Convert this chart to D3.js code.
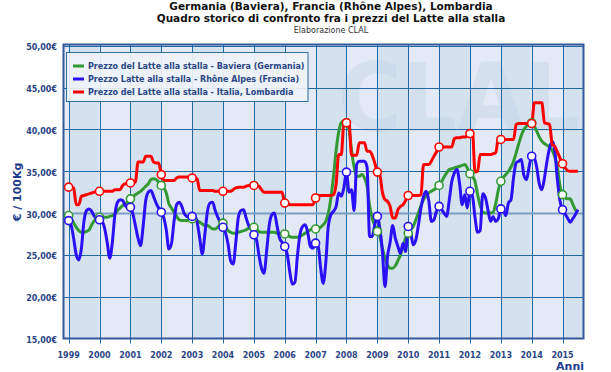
<!DOCTYPE html>
<html>
<head>
<meta charset="utf-8">
<script src="https://cdn.jsdelivr.net/npm/d3@7"></script>
<style>
  body { margin: 0; background: #fff; }
  svg { display: block; font-family: "DejaVu Sans", sans-serif; }
</style>
</head>
<body>
<svg id="chart" width="611" height="372"></svg>
<script>
// monthly prices, Jan 1999 - Jul 2015 (€ / 100 kg)
const baviera = [
  29.7, 29.3, 28.8, 28.3, 27.9, 27.7, 27.7, 27.8, 28.0, 28.6, 29.1, 29.4,
  29.5, 29.5, 29.5, 29.5, 29.6, 29.7, 29.9, 30.3, 30.6, 30.9, 31.1, 31.4,
  31.7, 32.0, 32.2, 32.4, 32.6, 32.9, 33.2, 33.5, 34.0, 34.1, 34.0, 33.7,
  33.3, 33.0, 32.4, 31.1, 30.6, 30.1, 29.6, 29.2, 29.1, 29.1, 29.1, 29.2,
  29.3, 29.3, 29.1, 28.9, 28.7, 28.5, 28.5, 28.3, 28.1, 28.1, 28.3, 28.6,
  28.8, 28.3, 27.9, 27.7, 27.6, 27.6, 27.7, 27.8, 27.9, 28.0, 28.2, 28.3,
  28.3, 28.1, 27.8, 27.7, 27.7, 27.7, 27.7, 27.7, 27.7, 27.6, 27.6, 27.5,
  27.5, 27.3, 27.2, 27.1, 27.1, 27.1, 27.2, 27.4, 27.6, 27.8, 28.0, 28.1,
  28.1, 28.2, 28.3, 28.6, 29.0, 30.0, 31.8, 34.4, 37.5, 39.7, 40.8, 41.0,
  40.8, 40.0, 37.5, 35.5, 34.4, 34.4, 34.6, 34.2, 33.2, 30.9, 29.4, 28.5,
  27.8, 27.2, 25.8, 24.6, 23.8, 23.4, 23.4, 23.7, 24.3, 25.0, 26.0, 27.0,
  27.6, 28.0, 28.4, 29.2, 30.0, 30.9, 31.6, 32.0, 32.4, 32.6, 32.8, 33.0,
  33.3, 33.8, 34.3, 34.8, 35.2, 35.3, 35.4, 35.5, 35.6, 35.7, 35.8, 35.4,
  34.7, 34.4, 33.8, 32.2, 30.9, 30.1, 30.0, 30.0, 30.0, 30.1, 31.1, 32.7,
  33.8, 34.3, 34.6, 35.0, 35.5, 36.2, 37.2, 38.3, 39.3, 40.0, 40.4, 40.8,
  40.8, 40.4, 39.8, 39.1, 38.6, 38.3, 38.1, 37.9, 37.5, 36.7, 35.5, 33.3,
  32.2, 31.8, 31.7, 31.7, 31.1, 30.4, 30.1
];
const rhoneAlpes = [
  29.1, 28.5, 27.0, 25.0, 24.4, 25.8, 29.0, 30.3, 30.5, 30.2, 29.6, 29.4,
  29.2, 29.0, 28.2, 26.5, 24.6, 26.5, 29.8, 31.3, 31.6, 31.5, 30.9, 30.7,
  30.7, 29.8, 28.5, 27.0, 26.1, 28.5, 31.5, 32.5, 32.7, 32.0, 31.2, 30.6,
  30.1, 29.4, 28.0, 25.7, 26.3, 29.0, 31.0, 31.3, 30.8, 29.9, 29.6, 29.5,
  29.6, 29.7, 28.9, 27.0, 25.1, 27.5, 30.2, 31.2, 31.3, 30.3, 29.5, 28.9,
  28.3, 27.6, 26.3, 24.3, 23.9, 26.5, 29.5, 30.3, 30.4, 29.4, 28.5, 28.0,
  27.4, 26.8, 25.0, 23.4, 22.8, 25.5, 28.5, 29.8, 30.0, 28.5, 27.0, 26.5,
  26.0, 25.0, 23.0, 21.5, 21.7, 25.0, 27.5, 28.4, 28.6, 27.6, 26.0, 25.8,
  26.4, 26.0, 23.5, 21.6, 24.0, 28.5, 29.8, 30.2, 30.8, 32.4, 32.0, 33.0,
  34.9, 32.5, 32.8, 30.3, 35.8, 36.2, 36.2, 36.2, 35.5, 27.2, 27.2, 28.6,
  29.6, 28.0, 25.5, 21.2, 24.8, 26.5, 28.5, 27.0, 26.0, 25.2, 26.4, 25.4,
  28.4, 27.6, 26.2, 26.8, 28.5, 30.6, 32.0, 32.6, 31.5, 29.0, 29.2, 30.2,
  30.8, 30.4, 30.0, 29.6, 31.5, 33.8, 34.8, 35.2, 33.5, 31.0, 32.2, 30.6,
  32.6, 32.0, 29.5, 27.7, 27.9, 32.3, 31.9, 30.4, 29.0, 29.6, 29.0, 29.3,
  30.5, 30.3, 29.7, 31.2, 31.6, 34.3, 36.0, 36.2, 36.4, 34.5, 34.0, 35.5,
  36.8, 36.6, 35.5, 33.5, 32.8, 34.2, 36.2, 37.8, 38.6, 37.5, 34.0, 31.5,
  30.4, 29.9, 29.4, 28.9, 29.3, 29.8, 30.4
];
const lombardia = [
  33.1, 33.1, 33.0, 31.0, 31.0, 32.0, 32.1, 32.2, 32.3, 32.4, 32.5, 32.6,
  32.6, 32.6, 32.6, 32.6, 32.6, 32.6, 32.8, 32.8, 32.8, 33.3, 33.5, 33.5,
  33.6, 33.6, 33.7, 36.1, 36.1, 36.1, 36.8, 36.8, 36.8, 36.1, 36.0, 36.0,
  34.6, 33.9, 33.9, 33.9, 33.9, 33.9, 34.2, 34.3, 34.3, 34.3, 34.3, 34.3,
  34.2, 34.2, 34.1, 32.7, 32.7, 32.7, 32.7, 32.7, 32.7, 32.6, 32.6, 32.6,
  32.6, 32.6, 32.6, 32.6, 32.8, 33.0, 33.1, 33.1, 33.1, 33.2, 33.3, 33.3,
  33.3, 33.3, 33.2, 32.8, 32.5, 32.5, 32.5, 32.5, 32.5, 32.5, 32.5, 32.5,
  31.2, 31.2, 31.0, 31.0, 31.0, 31.0, 31.0, 31.0, 31.0, 31.0, 31.0, 31.0,
  31.8, 32.1, 32.1, 32.1, 32.1, 32.1, 32.1, 32.2, 33.5, 37.0, 37.0, 40.6,
  40.8, 40.8, 36.9, 36.9, 36.9, 38.4, 38.4, 38.4, 37.4, 37.4, 36.9, 36.0,
  34.9, 34.5, 32.5, 31.6, 31.4, 30.8, 29.4, 29.4, 30.4, 30.8, 31.0, 31.5,
  32.1, 32.1, 32.1, 32.1, 32.1, 32.2, 35.8, 35.8, 35.8, 36.2, 36.8, 37.3,
  37.9, 37.9, 37.9, 37.9, 37.9, 37.9, 38.9, 39.0, 39.0, 39.1, 39.1, 39.2,
  39.5, 39.6, 34.9, 35.0, 37.0, 37.0, 37.0, 37.0, 37.0, 37.1, 37.2, 38.8,
  38.8, 38.8, 38.8, 38.8, 38.8, 38.8, 40.6, 40.7, 40.7, 40.7, 40.7, 40.7,
  40.7, 43.2, 43.2, 43.2, 43.2, 40.8, 40.7, 40.6, 38.2, 38.0, 37.3, 36.6,
  35.9, 35.4, 35.1, 35.0, 35.0, 35.0, 35.0
];
const seriesNames = [
  "Prezzo del Latte alla stalla - Baviera (Germania)",
  "Prezzo Latte alla stalla - Rhône Alpes (Francia)",
  "Prezzo del Latte alla stalla - Italia, Lombardia"
];
const seriesColors = ["#339933", "#2a10f5", "#ff0000"];
const yTicks = [15, 20, 25, 30, 35, 40, 45, 50];
const years = d3.range(1999, 2016);

const months = baviera.map((_, i) => new Date(1999, i, 1));
const series = [baviera, rhoneAlpes, lombardia].map((vals, k) => ({
  name: seriesNames[k],
  color: seriesColors[k],
  points: vals.map((v, i) => ({ date: months[i], value: v }))
}));

const svg = d3.select("#chart");
const plot = { left: 63.5, right: 583.5, top: 44.5, bottom: 338.5 };

const x = d3.scaleTime()
  .domain([new Date(1998, 10, 1), new Date(2015, 8, 6)])
  .range([plot.left, plot.right]);
const y = d3.scaleLinear()
  .domain([15, 50])
  .range([338.5, 45.8]);

const axisColor = "#2b4585";

// title
const title = svg.append("g").attr("text-anchor", "middle").attr("fill", "#111");
title.append("text").attr("x", 331).attr("y", 10)
  .attr("font-size", 10.5).attr("font-weight", "bold")
  .text("Germania (Baviera), Francia (Rhône Alpes), Lombardia");
title.append("text").attr("x", 331).attr("y", 21.5)
  .attr("font-size", 10.5).attr("font-weight", "bold")
  .text("Quadro storico di confronto fra i prezzi del Latte alla stalla");
title.append("text").attr("x", 331).attr("y", 33)
  .attr("font-size", 8).attr("fill", "#333")
  .text("Elaborazione CLAL");

// alternating year bands
const bandEdges = [x.domain()[0], ...years.map(yr => new Date(yr, 0, 1)), x.domain()[1]];
svg.append("g").selectAll("rect")
  .data(d3.pairs(bandEdges))
  .join("rect")
  .attr("x", d => x(d[0]))
  .attr("width", d => x(d[1]) - x(d[0]))
  .attr("y", plot.top)
  .attr("height", plot.bottom - plot.top)
  .attr("fill", d => (d[0].getFullYear() % 2 === 1 ? "#d4e1ee" : "#e3eaf5"));

// watermark
svg.append("text")
  .attr("x", 338).attr("y", 131)
  .attr("font-size", 95).attr("font-weight", "bold")
  .attr("textLength", 242).attr("lengthAdjust", "spacingAndGlyphs")
  .attr("fill", "#c2d3e8").attr("opacity", 0.4)
  .text("CLAL");

// grid
const grid = svg.append("g").attr("stroke", "#1f6aa5").attr("stroke-width", 1);
grid.selectAll("line.v")
  .data(years)
  .join("line")
  .attr("class", "v")
  .attr("x1", d => Math.round(x(new Date(d, 0, 1))) + 0.5)
  .attr("x2", d => Math.round(x(new Date(d, 0, 1))) + 0.5)
  .attr("y1", plot.top)
  .attr("y2", plot.bottom + 5);
grid.selectAll("line.h")
  .data(yTicks.slice(1))
  .join("line")
  .attr("class", "h")
  .attr("x1", plot.left)
  .attr("x2", plot.right)
  .attr("y1", d => Math.round(y(d)) + 0.5)
  .attr("y2", d => Math.round(y(d)) + 0.5)
  .attr("stroke", d => (d === 30 ? "#7d9dc2" : null))
  .attr("stroke-width", d => (d === 30 ? 2 : null));

// frame
svg.append("rect")
  .attr("x", plot.left).attr("y", plot.top)
  .attr("width", plot.right - plot.left).attr("height", plot.bottom - plot.top)
  .attr("fill", "none").attr("stroke", "#34589a").attr("stroke-width", 2);

// y axis labels
const fmt = d3.format(".2f");
svg.append("g").selectAll("text")
  .data(yTicks)
  .join("text")
  .attr("x", 57)
  .attr("y", d => y(d) + 4.5)
  .attr("text-anchor", "end")
  .attr("font-size", 8).attr("font-weight", "bold")
  .attr("fill", axisColor)
  .text(d => fmt(d).replace(".", ",") + "€");

svg.append("text")
  .attr("transform", "translate(21,192) rotate(-90)")
  .attr("text-anchor", "middle")
  .attr("font-size", 11).attr("font-weight", "bold")
  .attr("fill", "#1e3c8c")
  .text("€ / 100Kg");

// x axis labels
svg.append("g").selectAll("text")
  .data(years)
  .join("text")
  .attr("x", d => x(new Date(d, 0, 1)))
  .attr("y", 358)
  .attr("text-anchor", "middle")
  .attr("font-size", 8).attr("font-weight", "bold")
  .attr("fill", axisColor)
  .text(d => d);

svg.append("text")
  .attr("x", 584).attr("y", 370)
  .attr("text-anchor", "end")
  .attr("font-size", 11).attr("font-weight", "bold")
  .attr("fill", "#1e3c8c")
  .text("Anni");

// lines
const line = d3.line()
  .x(d => x(d.date))
  .y(d => y(d.value))
  .curve(d3.curveMonotoneX);

const lines = svg.append("g");
lines.selectAll("path")
  .data(series)
  .join("path")
  .attr("d", d => line(d.points))
  .attr("fill", "none")
  .attr("stroke", d => d.color)
  .attr("stroke-width", 3)
  .attr("stroke-linejoin", "round");

// year markers
series.forEach(s => {
  lines.append("g").selectAll("circle")
    .data(s.points.filter(p => p.date.getMonth() === 0))
    .join("circle")
    .attr("cx", d => x(d.date))
    .attr("cy", d => y(d.value))
    .attr("r", 4)
    .attr("fill", "#fff")
    .attr("stroke", s.color)
    .attr("stroke-width", 1.6);
});

// legend
const legend = svg.append("g");
legend.append("rect")
  .attr("x", 66.5).attr("y", 52.5)
  .attr("width", 241.5).attr("height", 49)
  .attr("fill", "#eef3f9").attr("fill-opacity", 0.92)
  .attr("stroke", "#2d6d98").attr("stroke-width", 1);
series.forEach((s, i) => {
  const ly = 66 + i * 13;
  legend.append("line")
    .attr("x1", 73).attr("x2", 84)
    .attr("y1", ly).attr("y2", ly)
    .attr("stroke", s.color).attr("stroke-width", 3);
  legend.append("text")
    .attr("x", 88).attr("y", ly + 3)
    .attr("font-size", 8).attr("font-weight", "bold")
    .attr("fill", axisColor)
    .text(s.name);
});
</script>
</body>
</html>
